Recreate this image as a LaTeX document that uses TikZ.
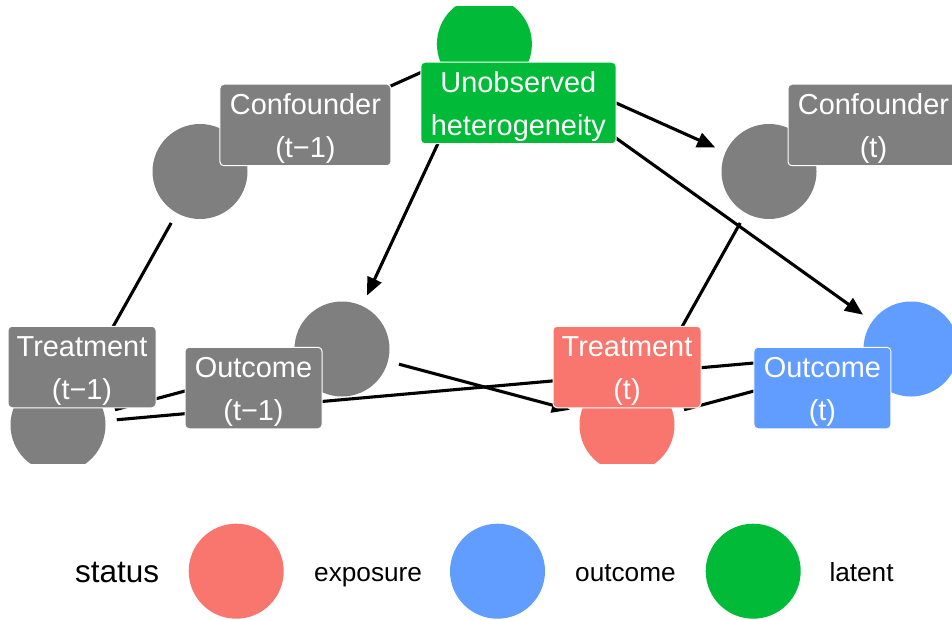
\documentclass[tikz,border=0pt]{standalone}
\usepackage{fontspec}
\setmainfont{Liberation Sans}
\usetikzlibrary{arrows.meta}
\definecolor{grayn}{HTML}{7F7F7F}
\definecolor{expo}{HTML}{F8766D}
\definecolor{outc}{HTML}{619CFF}
\definecolor{late}{HTML}{00BA38}
\newcommand\lblfont{\fontsize{28.9pt}{42.3pt}\selectfont}
\newcommand\topstrut{\rule{0pt}{28.5pt}}
\newcommand\botstrut{\rule[-6.5pt]{0pt}{6.5pt}}
\tikzset{
  dagnode/.style={circle, minimum size=95pt, inner sep=0pt, outer sep=0pt, draw=none},
  daglabel/.style={rectangle, rounded corners=4pt, draw=white, line width=1pt,
     text=white, font=\lblfont, align=center, inner sep=0pt,
     minimum height=81.5pt},
  edge/.style={line width=3.1pt, black, shorten <=11.5pt, shorten >=11.5pt,
     -{Triangle[length=18pt,width=15pt]}},
  legtitle/.style={anchor=base west, inner sep=0pt, font=\fontsize{31.5pt}{36pt}\selectfont},
  legtext/.style={anchor=base west, inner sep=0pt, font=\fontsize{26.2pt}{30pt}\selectfont},
}
\begin{document}
\begin{tikzpicture}[x=1pt,y=-1pt]
\useasboundingbox (0,0) rectangle (952,620);
\begin{scope}
  \clip (-20,6.7) rectangle (972,463.3);
  \node[dagnode, fill=grayn] (c1) at (200,171.5) {};
  \node[dagnode, fill=late]  (u)  at (484.4,44) {};
  \node[dagnode, fill=grayn] (c2) at (769,171.5) {};
  \node[dagnode, fill=grayn] (a1) at (58,425) {};
  \node[dagnode, fill=grayn] (y1) at (342,349) {};
  \node[dagnode, fill=expo]  (a2) at (627,425) {};
  \node[dagnode, fill=outc]  (y2) at (911,349) {};
\end{scope}
% edges
\draw[edge] (u) -- (c1);
\draw[edge] (u) -- (y1);
\draw[edge] (u) -- (c2);
\draw[edge] (u) -- (y2);
\draw[edge] (c1) -- (a1);
\draw[edge] (c2) -- (a2);
\draw[edge] (a1) -- (y1);
\draw[edge] (a1) -- (y2);
\draw[edge] (y1) -- (a2);
\draw[edge] (a2) -- (y2);
% labels
\node[daglabel, fill=grayn, minimum width=171pt] (lc1) at (305.4,125) {\topstrut Confounder\\(t−1)\botstrut};
\node[daglabel, fill=late, minimum width=195.3pt] (lu) at (518.4,103) {\topstrut Unobserved\\heterogeneity\botstrut};
\node[daglabel, fill=grayn, minimum width=171pt] (lc2) at (873.5,125) {\topstrut Confounder\\(t)\botstrut};
\node[daglabel, fill=grayn, minimum width=148pt] (la1) at (82,367) {\topstrut Treatment\\(t−1)\botstrut};
\node[daglabel, fill=grayn, minimum width=137pt] (ly1) at (253.5,388) {\topstrut Outcome\\(t−1)\botstrut};
\node[daglabel, fill=expo, minimum width=148pt] (la2) at (627,367) {\topstrut Treatment\\(t)\botstrut};
\node[daglabel, fill=outc, minimum width=137pt] (ly2) at (822.4,388) {\topstrut Outcome\\(t)\botstrut};
% legend
\node[legtitle] (lgt) at (75,582.7) {status};
\node[dagnode, fill=expo] (lg1) at (236.2,571.2) {};
\node[legtext] (lgt1) at (314,581) {exposure};
\node[dagnode, fill=outc] (lg2) at (497.5,571.2) {};
\node[legtext] (lgt2) at (575,581) {outcome};
\node[dagnode, fill=late] (lg3) at (753.2,571.2) {};
\node[legtext] (lgt3) at (829.3,581) {latent};
\end{tikzpicture}
\end{document}
